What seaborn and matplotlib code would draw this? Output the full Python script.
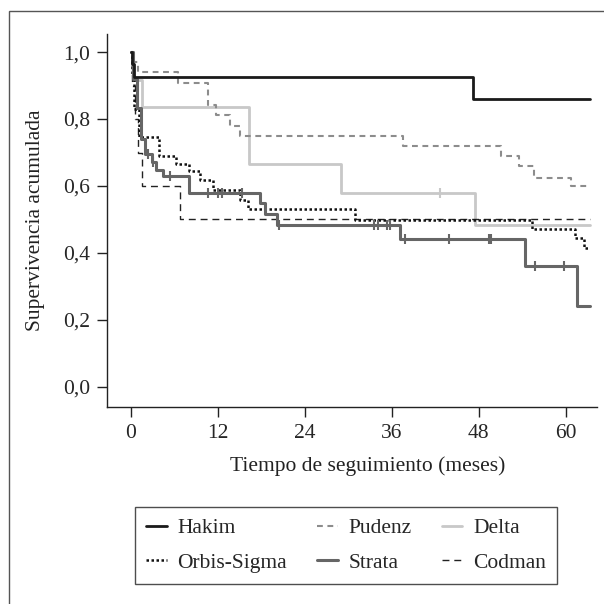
import numpy as np
import pandas as pd
import matplotlib
matplotlib.use("Agg")
import matplotlib.pyplot as plt
from matplotlib.lines import Line2D
from matplotlib.patches import Rectangle
import seaborn as sns

# Kaplan-Meier curves (tiempo en meses, supervivencia)
hakim_t = [0, 0.1, 0.4, 47.2, 63.4]
hakim_s = [1.0, 0.963, 0.926, 0.86, 0.86]

pudenz_t = [0, 0.3, 1.0, 6.5, 10.7, 11.8, 13.6, 15.0, 37.6, 51.0, 53.5, 55.6, 60.7, 63.4]
pudenz_s = [1.0, 0.97, 0.94, 0.907, 0.842, 0.812, 0.778, 0.75, 0.72, 0.69, 0.66, 0.625, 0.60, 0.60]

delta_t = [0, 0.3, 1.5, 16.3, 29.0, 47.5, 63.4]
delta_s = [1.0, 0.916, 0.835, 0.665, 0.58, 0.485, 0.485]
delta_cens = [42.6]

orbis_t = [0, 0.2, 0.4, 1.1, 3.9, 6.2, 8.0, 9.5, 11.3, 15.0, 16.2, 30.9, 55.3, 61.2, 62.5, 63.4]
orbis_s = [1.0, 0.93, 0.83, 0.746, 0.69, 0.666, 0.646, 0.617, 0.588, 0.558, 0.531, 0.498, 0.472, 0.444, 0.415, 0.415]

strata_t = [0, 0.3, 0.8, 1.4, 1.9, 2.9, 3.5, 4.4, 8.0, 17.8, 18.5, 20.2, 37.1, 54.4, 61.6, 63.4]
strata_s = [1.0, 0.92, 0.833, 0.74, 0.695, 0.672, 0.648, 0.63, 0.578, 0.548, 0.516, 0.483, 0.442, 0.362, 0.242, 0.242]
strata_cens = [2.4, 3.1, 5.4, 10.6, 12.0, 12.5, 15.3, 20.4, 33.6, 34.1, 35.3, 35.7,
               37.8, 43.9, 49.4, 49.7, 55.7, 59.7]

codman_t = [0, 0.2, 0.5, 1.0, 1.5, 6.8, 63.4]
codman_s = [1.0, 0.9, 0.8, 0.7, 0.6, 0.5, 0.5]

x_ticks = [0, 12, 24, 36, 48, 60]
y_ticks = [0.0, 0.2, 0.4, 0.6, 0.8, 1.0]
y_ticklabels = ["0,0", "0,2", "0,4", "0,6", "0,8", "1,0"]

series = {
    "Hakim": (hakim_t, hakim_s, []),
    "Pudenz": (pudenz_t, pudenz_s, []),
    "Delta": (delta_t, delta_s, delta_cens),
    "Orbis-Sigma": (orbis_t, orbis_s, []),
    "Strata": (strata_t, strata_s, strata_cens),
    "Codman": (codman_t, codman_s, []),
}

styles = {
    "Hakim": dict(color="#1a1a1a", lw=2.0, ls="-"),
    "Pudenz": dict(color="#8c8c8c", lw=1.5, ls=(0, (2.8, 2.2))),
    "Delta": dict(color="#c8c8c8", lw=2.0, ls="-"),
    "Orbis-Sigma": dict(color="#111111", lw=1.8, ls=(0, (1, 1))),
    "Strata": dict(color="#666666", lw=2.2, ls="-"),
    "Codman": dict(color="#222222", lw=1.0, ls=(0, (5, 3.5))),
}

rows = []
for name, (t, s, _) in series.items():
    for ti, si in zip(t, s):
        rows.append({"valvula": name, "tiempo": ti, "supervivencia": si})
df = pd.DataFrame(rows)

sns.set_style("ticks")
plt.rcParams["font.family"] = ["Liberation Serif", "DejaVu Serif"]
fs = 15.5

fig = plt.figure(figsize=(6.04, 6.04), dpi=100)
ax = fig.add_axes([107 / 604, 1 - 407 / 604, 490 / 604, 373 / 604])

draw_order = ["Delta", "Pudenz", "Codman", "Orbis-Sigma", "Strata", "Hakim"]
for name in draw_order:
    st = styles[name]
    sub = df[df["valvula"] == name]
    sns.lineplot(data=sub, x="tiempo", y="supervivencia", ax=ax, drawstyle="steps-post",
                 color=st["color"], linewidth=st["lw"], linestyle=st["ls"],
                 errorbar=None, estimator=None, sort=False, legend=False)
    t, s, cens = series[name]
    if cens:
        idx = np.searchsorted(np.array(t), np.array(cens), side="right") - 1
        ax.plot(cens, np.array(s)[idx], ls="none", marker="|", markersize=7,
                markeredgewidth=1.5, color=st["color"])

ax.set_xlim(-3.3, 64.3)
ax.set_ylim(-0.06, 1.054)
ax.set_xticks(x_ticks)
ax.set_xticklabels([str(v) for v in x_ticks], fontsize=fs)
ax.set_yticks(y_ticks)
ax.set_yticklabels(y_ticklabels, fontsize=fs)
ax.tick_params(length=7, width=1, color="#222222", pad=5)
sns.despine(ax=ax)
for sp in ["left", "bottom"]:
    ax.spines[sp].set_linewidth(1.0)
    ax.spines[sp].set_color("#222222")

ax.set_xlabel("Tiempo de seguimiento (meses)", fontsize=fs, color="#222222")
ax.set_ylabel("Supervivencia acumulada", fontsize=fs, color="#222222")
ax.xaxis.set_label_coords(0.532, -0.133)
ax.yaxis.set_label_coords(-0.127, 0.5)

# legend, filled column-wise for 3 columns x 2 rows
leg_order = ["Hakim", "Orbis-Sigma", "Pudenz", "Strata", "Delta", "Codman"]
handles = [Line2D([0], [0], color=styles[n]["color"], lw=styles[n]["lw"], ls=styles[n]["ls"])
           for n in leg_order]
leg = fig.legend(handles, leg_order, ncol=3, loc="center",
                 bbox_to_anchor=(0.573, 0.097), bbox_transform=fig.transFigure,
                 fontsize=fs, frameon=True, fancybox=False, edgecolor="#222222",
                 handlelength=0.95, handletextpad=0.5, columnspacing=1.4,
                 labelspacing=0.66, borderpad=0.54)
leg.get_frame().set_linewidth(1.0)

# outer frame of the figure panel
fig.patches.append(Rectangle((9 / 604, -0.1), 1.2, (604 - 11) / 604 + 0.1,
                             transform=fig.transFigure, fill=False,
                             edgecolor="#555555", lw=1.0))

fig.savefig("out.png", dpi=100, facecolor="white")
